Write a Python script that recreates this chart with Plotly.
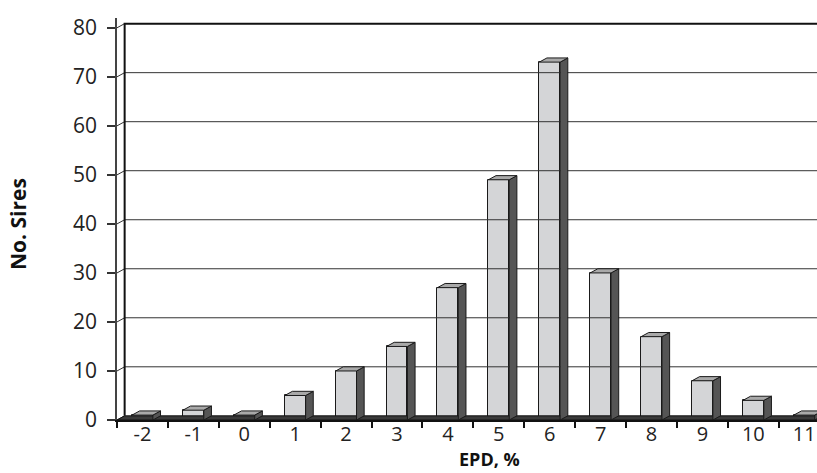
import plotly.graph_objects as go

# ---- data ----
categories = [-2, -1, 0, 1, 2, 3, 4, 5, 6, 7, 8, 9, 10, 11]
tick_labels = ["-2", "-1", "0", "1", "2", "3", "4", "5", "6", "7", "8", "9", "10", "11"]
no_sires = [1, 2, 1, 5, 10, 15, 27, 49, 73, 30, 17, 8, 4, 1]
y_ticks = [0, 10, 20, 30, 40, 50, 60, 70, 80]

# ---- 3-D look parameters (data units) ----
DX = 0.15     # depth offset along x
DY = 0.85     # depth offset along y
HALF = 0.205  # half bar width
X0 = -2.5
X1 = 11.25

FRONT = "#d4d5d7"
SIDE = "#555555"
TOP = "#a9a9a9"
EDGE = "#1a1a1a"

fig = go.Figure()

# back-wall gridlines
gx, gy = [], []
for v in y_ticks[1:-1]:
    gx += [X0 + DX, X1, None]
    gy += [v + DY, v + DY, None]
fig.add_trace(go.Scatter(x=gx, y=gy, mode="lines", line=dict(color="#333333", width=1),
                         hoverinfo="skip", showlegend=False))
# connectors from front axis to back wall
cx, cy = [], []
for v in y_ticks:
    cx += [X0, X0 + DX, None]
    cy += [v, v + DY, None]
fig.add_trace(go.Scatter(x=cx, y=cy, mode="lines", line=dict(color="#333333", width=1),
                         hoverinfo="skip", showlegend=False))
# back wall left edge and top
fig.add_trace(go.Scatter(x=[X0 + DX, X0 + DX, X1], y=[DY, y_ticks[-1] + DY, y_ticks[-1] + DY],
                         mode="lines", line=dict(color="#111111", width=2),
                         hoverinfo="skip", showlegend=False))
# floor
fig.add_trace(go.Scatter(x=[X0, X0 + DX, X1 + 1, X1 + 1, X0], y=[0, DY, DY, 0, 0],
                         mode="lines", fill="toself", fillcolor="#3a3a3a",
                         line=dict(color="#111111", width=1),
                         hoverinfo="skip", showlegend=False))

# side and top faces
sx, sy, tx, ty = [], [], [], []
for c, v in zip(categories, no_sires):
    r = c + HALF
    l = c - HALF
    sx += [r, r + DX, r + DX, r, r, None]
    sy += [0, DY, v + DY, v, 0, None]
    tx += [l, l + DX, r + DX, r, l, None]
    ty += [v, v + DY, v + DY, v, v, None]
fig.add_trace(go.Scatter(x=sx, y=sy, mode="lines", fill="toself", fillcolor=SIDE,
                         line=dict(color=EDGE, width=1), hoverinfo="skip", showlegend=False))
fig.add_trace(go.Scatter(x=tx, y=ty, mode="lines", fill="toself", fillcolor=TOP,
                         line=dict(color=EDGE, width=1), hoverinfo="skip", showlegend=False))

# front faces
fig.add_trace(go.Bar(x=categories, y=no_sires, width=2 * HALF,
                     marker=dict(color=FRONT, line=dict(color=EDGE, width=1)),
                     showlegend=False))

# dummy trace for boundary-tick axis
fig.add_trace(go.Scatter(x=[0], y=[0], xaxis="x2", mode="markers", opacity=0,
                         hoverinfo="skip", showlegend=False))

tick_font = dict(family="Open Sans", size=21, color="#222222")
xtick_font = dict(family="Open Sans", size=20, color="#222222")

fig.update_layout(
    width=817, height=473,
    margin=dict(l=117, r=0, t=18, b=53),
    paper_bgcolor="white", plot_bgcolor="white",
    bargap=0,
    xaxis=dict(range=[X0, X1], tickvals=categories, ticktext=tick_labels,
               ticks="", showgrid=False, zeroline=False, showline=False,
               tickfont=xtick_font, ticklabelstandoff=0),
    xaxis2=dict(range=[X0, X1], overlaying="x", anchor="y", side="bottom",
                tickvals=[c - 0.5 for c in categories] + [categories[-1] + 0.5],
                ticks="outside", ticklen=6, tickwidth=1.5, tickcolor="#111111",
                showticklabels=False, showgrid=False, zeroline=False,
                showline=True, linecolor="#111111", linewidth=1.5),
    yaxis=dict(range=[0, 82], tickvals=y_ticks, ticks="outside", ticklen=8,
               tickwidth=1.5, tickcolor="#333333", showgrid=False, zeroline=False,
               showline=True, linecolor="#444444", linewidth=1.5,
               tickfont=tick_font, ticklabelstandoff=6),
    annotations=[
        dict(text="<b>EPD, %</b>", x=489, y=459, xref="paper", yref="paper", showarrow=False,
             borderpad=0,
             font=dict(family="Open Sans", size=18, weight=800, color="#111111")),
        dict(text="<b>No. Sires</b>", x=18, y=224, xref="paper", yref="paper", showarrow=False,
             textangle=-90,
             font=dict(family="Open Sans", size=21, weight=800, color="#111111")),
    ],
)

# convert annotation pixel positions to paper coords
pw, ph = 817 - 117, 473 - 18 - 53
for a in fig.layout.annotations:
    px, py = a.x, a.y
    a.x = (px - 117) / pw
    a.y = (473 - 53 - py) / ph
    a.xanchor = "center"
    a.yanchor = "middle"

fig.write_html("out.html", config={"displayModeBar": False},
               post_script="document.body.style.margin='0';document.body.style.overflow='hidden';")
